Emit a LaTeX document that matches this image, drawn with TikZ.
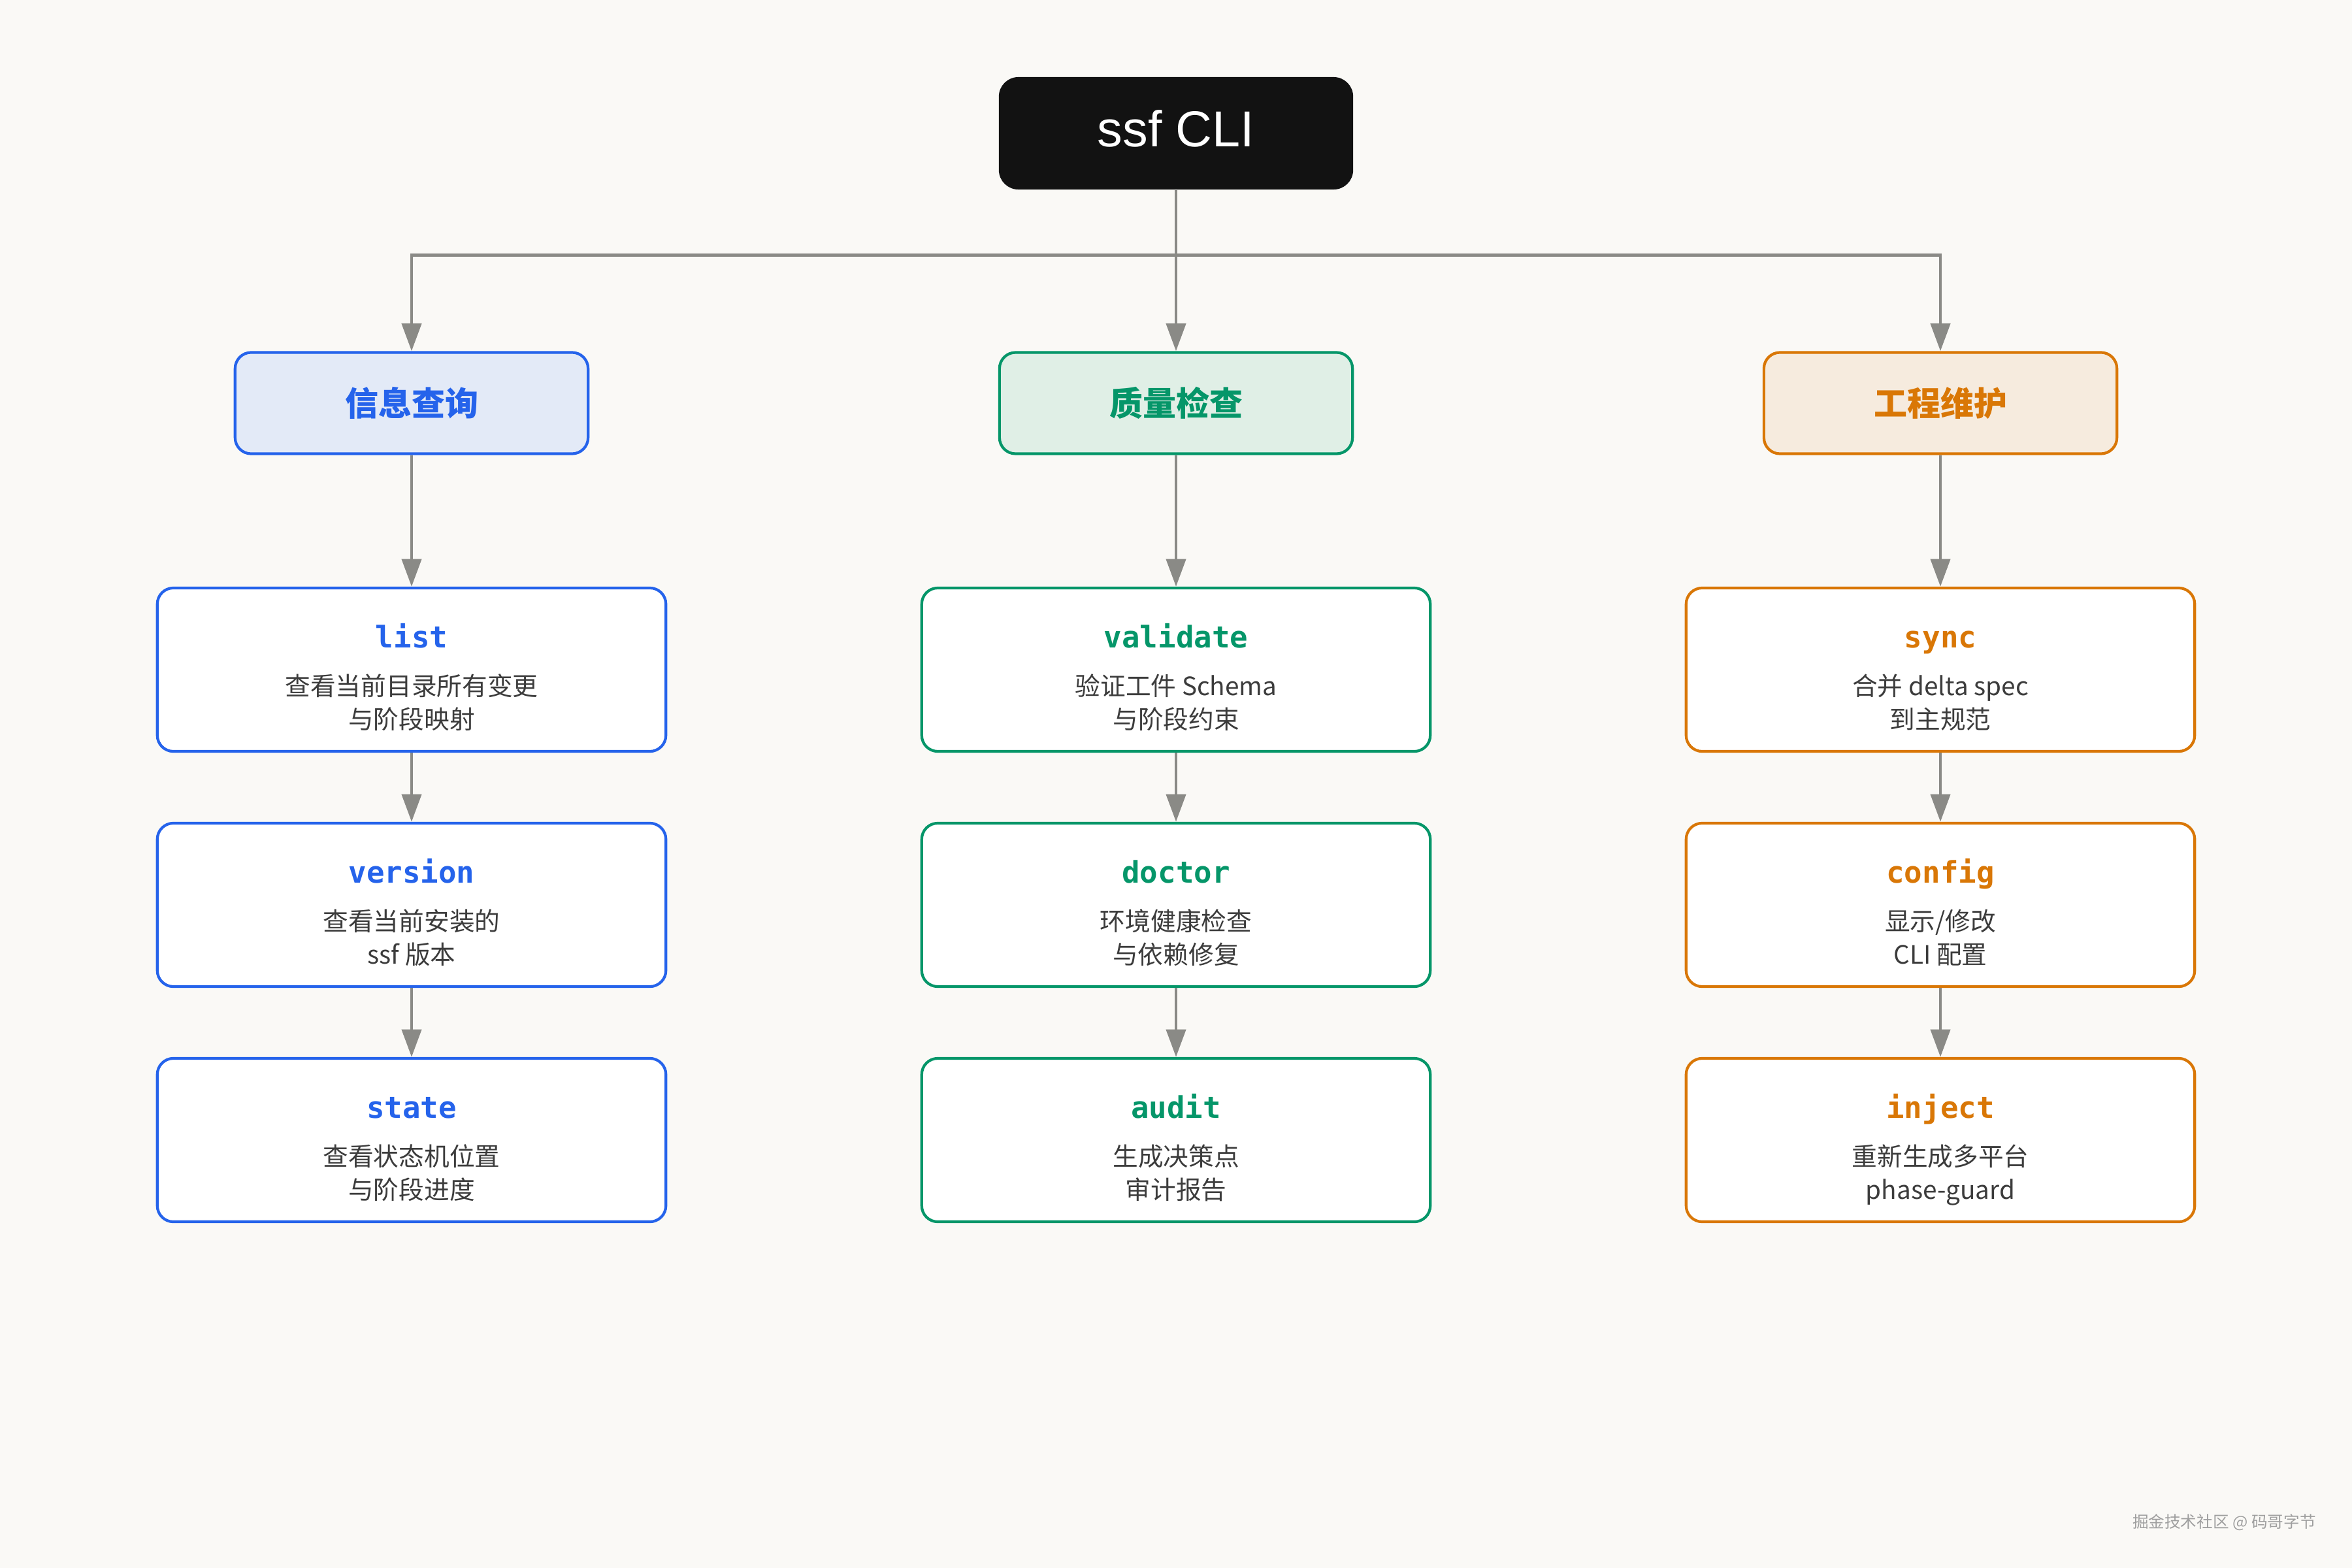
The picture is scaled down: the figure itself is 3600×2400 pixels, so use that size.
\documentclass[tikz,border=0pt]{standalone}
\usepackage{fontspec}
\usepackage{xcolor}
\usepackage{tikz}
\usetikzlibrary{positioning, arrows.meta, calc}

\newfontfamily\cnfont{Noto Sans CJK SC}
\newfontfamily\headfont{Liberation Sans}
\setmonofont{DejaVu Sans Mono}

\definecolor{bgpaper}{HTML}{FAF9F6}
\definecolor{rootfill}{HTML}{121212}
\definecolor{linkgray}{HTML}{8A8A86}
\definecolor{descgray}{HTML}{3C3C3C}
\definecolor{infoblue}{HTML}{2563EB}
\definecolor{infofill}{HTML}{E3EAF7}
\definecolor{qualgreen}{HTML}{059669}
\definecolor{qualfill}{HTML}{E0EFE6}
\definecolor{maintorange}{HTML}{D97706}
\definecolor{maintfill}{HTML}{F6EBDE}

\begin{document}
\begin{tikzpicture}[x=0.01cm, y=-0.01cm,
    rootbox/.style={fill=rootfill, rounded corners=8.5pt, minimum width=5.42cm, minimum height=1.72cm,
        text=white, font=\headfont\fontsize{22}{26}\selectfont},
    groupbox/.style 2 args={draw=#1, fill=#2, line width=1.2pt, rounded corners=7pt,
        minimum width=5.4cm, minimum height=1.55cm, text=#1, font=\cnfont\bfseries\fontsize{14.5}{17}\selectfont},
    cmdbox/.style={draw=#1, fill=white, line width=1.2pt, rounded corners=7pt,
        minimum width=7.78cm, minimum height=2.5cm, align=center, text=descgray,
        font=\cnfont\fontsize{11}{14.5}\selectfont},
    link/.style={draw=linkgray, line width=1.3pt, -{Triangle[length=12pt, width=8.5pt]}}]
    \begin{scope}
        % Background
        \fill[bgpaper] (0,0) rectangle (3600,2400);

        % Root
        \node[rootbox] (cli) at (1800,204) {\raisebox{4pt}{ssf CLI}};

        % Groups
        \node[groupbox={infoblue}{infofill}] (info) at (630,617) {信息查询};
        \node[groupbox={qualgreen}{qualfill}] (qual) at (1800,617) {质量检查};
        \node[groupbox={maintorange}{maintfill}] (maint) at (2970,617) {工程维护};

        % Commands
        \def\tstrut{\rule{0pt}{20.2pt}}
        \def\bstrut{\rule[-4pt]{0pt}{0pt}}
        \foreach \name/\x/\y/\clr/\lineA/\lineB in {
            list/630/1025/infoblue/查看当前目录所有变更/与阶段映射,
            version/630/1385/infoblue/查看当前安装的/ssf 版本,
            state/630/1745/infoblue/查看状态机位置/与阶段进度,
            validate/1800/1025/qualgreen/验证工件 Schema/与阶段约束,
            doctor/1800/1385/qualgreen/环境健康检查/与依赖修复,
            audit/1800/1745/qualgreen/生成决策点/审计报告,
            sync/2970/1025/maintorange/合并 delta spec/到主规范,
            config/2970/1385/maintorange/{显示/修改}/CLI 配置,
            inject/2970/1745/maintorange/重新生成多平台/phase-guard} {
            \node[cmdbox=\clr] (\name) at (\x,\y)
                {\tstrut{\ttfamily\bfseries\fontsize{13}{15}\selectfont\color{\clr}\name}\\[6pt]\lineA\\\lineB\bstrut};
        }

        % Links
        \coordinate (bus) at ($(cli.south)+(0,100)$);
        \draw[link] (cli.south) -- (qual.north);
        \draw[link] (bus) -| (info.north);
        \draw[link] (bus) -| (maint.north);
        \foreach \src/\dst in {info/list, list/version, version/state,
            qual/validate, validate/doctor, doctor/audit,
            maint/sync, sync/config, config/inject} {
            \draw[link] (\src) -- (\dst);
        }

        % Watermark
        \node[anchor=east, text=gray!75, font=\cnfont\fontsize{7}{8}\selectfont] (mark) at (3557,2330)
            {掘金技术社区 @ 码哥字节};
    \end{scope}
\end{tikzpicture}
\end{document}
